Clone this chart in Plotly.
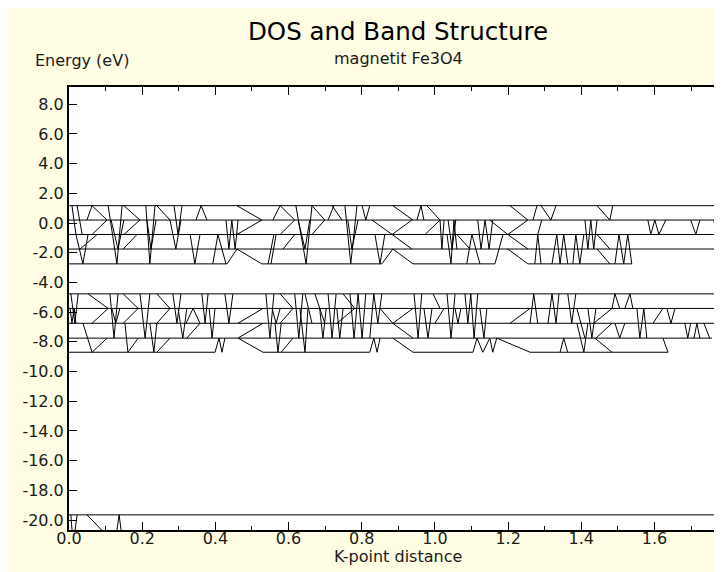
import plotly.graph_objects as go

# ---------------- data ----------------
k_max = 1.79
e_range = [-20.67, 9.16]

upper_levels = [1.17, 0.20, -0.77, -1.75, -2.75]
lower_levels = [-4.77, -5.75, -6.75, -7.75, -8.70]
bottom_levels = [-19.65, -21.2]

# flat band pieces: (level index, k start, k end)
upper_flat = [(0, 0, 1.8), (1, 0, 1.8), (2, 0, 1.8), (3, 0, 1.8),
              (4, 0, 0.432), (4, 0.527, 0.855), (4, 0.940, 1.164), (4, 1.254, 1.538)]
lower_flat = [(0, 0, 1.8), (1, 0, 1.8), (2, 0, 1.8), (3, 0, 1.757),
              (4, 0, 0.399), (4, 0.530, 0.822), (4, 0.940, 1.104), (4, 1.260, 1.637)]
bottom_flat = [(0, 0, 1.8)]

# band crossings: lists of (k, level index)
upper_paths = [
    [(0.008, 0), (0.019, 2), (0.038, 4), (0.052, 2)],
    [(0.022, 0), (0.030, 1), (0.036, 2)],
    [(0.049, 1), (0.063, 0), (0.104, 1)],
    [(0.063, 2), (0.104, 1)],
    [(0.030, 3), (0.077, 2)],
    [(0.107, 0), (0.131, 4), (0.145, 0)],
    [(0.115, 1), (0.134, 3), (0.150, 1)],
    [(0.150, 0), (0.194, 1)],
    [(0.150, 2), (0.194, 1)],
    [(0.148, 3), (0.186, 2)],
    [(0.210, 0), (0.221, 4), (0.235, 0)],
    [(0.213, 1), (0.224, 3), (0.238, 1)],
    [(0.240, 0), (0.276, 1), (0.292, 3), (0.306, 1)],
    [(0.287, 0), (0.298, 2), (0.309, 0)],
    [(0.331, 2), (0.344, 4), (0.358, 2)],
    [(0.347, 1), (0.361, 0), (0.377, 1)],
    [(0.393, 4), (0.407, 2), (0.429, 4)],
    [(0.429, 1), (0.437, 3), (0.445, 1), (0.454, 3), (0.462, 1)],
    [(0.459, 0), (0.527, 1)],
    [(0.459, 2), (0.527, 1)],
    [(0.432, 4), (0.459, 3), (0.527, 4)],
    [(0.544, 4), (0.560, 2)],
    [(0.552, 4), (0.566, 2)],
    [(0.557, 1), (0.577, 0), (0.617, 1)],
    [(0.577, 2), (0.617, 1)],
    [(0.585, 3), (0.617, 2)],
    [(0.620, 0), (0.648, 4), (0.664, 0), (0.699, 1)],
    [(0.626, 1), (0.645, 3), (0.658, 1)],
    [(0.664, 2), (0.699, 1)],
    [(0.708, 1), (0.724, 0)],
    [(0.719, 0), (0.746, 1)],
    [(0.754, 0), (0.770, 4), (0.787, 0)],
    [(0.762, 1), (0.773, 3), (0.790, 1)],
    [(0.801, 0), (0.811, 1), (0.822, 0)],
    [(0.836, 2), (0.850, 4), (0.863, 2)],
    [(0.828, 1), (0.883, 2), (0.937, 1)],
    [(0.883, 2), (0.937, 3)],
    [(0.885, 0), (0.940, 1)],
    [(0.855, 4), (0.885, 3), (0.940, 4)],
    [(0.951, 1), (0.962, 0), (0.970, 1)],
    [(0.978, 0), (1.014, 1), (1.019, 3), (1.025, 1)],
    [(0.973, 2), (1.014, 1)],
    [(1.033, 2), (1.044, 4), (1.052, 1), (1.060, 3)],
    [(1.036, 1), (1.047, 3), (1.057, 1)],
    [(1.060, 2), (1.096, 3)],
    [(1.087, 4), (1.101, 2), (1.123, 4)],
    [(1.117, 1), (1.126, 3), (1.137, 1), (1.148, 3), (1.158, 1)],
    [(1.164, 4), (1.186, 2)],
    [(1.150, 1), (1.199, 2), (1.254, 3)],
    [(1.199, 2), (1.254, 1)],
    [(1.205, 0), (1.254, 1)],
    [(1.199, 3), (1.254, 4)],
    [(1.268, 1), (1.279, 0)],
    [(1.290, 0), (1.317, 1), (1.331, 0)],
    [(1.273, 4), (1.281, 2), (1.290, 4)],
    [(1.281, 2), (1.292, 1)],
    [(1.320, 4), (1.333, 2), (1.342, 4), (1.352, 2), (1.363, 4)],
    [(1.377, 4), (1.385, 2), (1.396, 4), (1.407, 2)],
    [(1.410, 1), (1.418, 3), (1.426, 1), (1.434, 3), (1.443, 1)],
    [(1.443, 0), (1.478, 1), (1.486, 0)],
    [(1.443, 2), (1.478, 3)],
    [(1.443, 3), (1.478, 4)],
    [(1.492, 4), (1.503, 2), (1.516, 4), (1.527, 2), (1.538, 4)],
    [(1.582, 1), (1.590, 2), (1.601, 1), (1.612, 2), (1.631, 1)],
    [(1.699, 1), (1.713, 2), (1.724, 1)],
    [(1.762, 1), (1.770, 2), (1.779, 1)],
]

lower_paths = [
    [(0.003, 1), (0.008, 2), (0.014, 1), (0.019, 2)],
    [(0.005, 0), (0.016, 2), (0.025, 0)],
    [(0.038, 2), (0.063, 4), (0.104, 3)],
    [(0.052, 0), (0.107, 1)],
    [(0.063, 2), (0.107, 1)],
    [(0.112, 0), (0.123, 3), (0.134, 0)],
    [(0.117, 1), (0.128, 2), (0.139, 1)],
    [(0.148, 0), (0.189, 1)],
    [(0.148, 2), (0.189, 1)],
    [(0.153, 2), (0.161, 4), (0.189, 3)],
    [(0.194, 0), (0.208, 3), (0.221, 0)],
    [(0.221, 2), (0.232, 4), (0.240, 2)],
    [(0.240, 0), (0.276, 1)],
    [(0.240, 2), (0.276, 1)],
    [(0.240, 4), (0.276, 3)],
    [(0.284, 0), (0.295, 2), (0.306, 0)],
    [(0.298, 1), (0.311, 3), (0.322, 1)],
    [(0.320, 2), (0.339, 1), (0.358, 2)],
    [(0.322, 3), (0.358, 2)],
    [(0.363, 0), (0.372, 2), (0.380, 0)],
    [(0.383, 1), (0.391, 3), (0.399, 1)],
    [(0.399, 4), (0.410, 3), (0.418, 4), (0.426, 3)],
    [(0.426, 0), (0.437, 2), (0.448, 0)],
    [(0.462, 3), (0.530, 2)],
    [(0.462, 3), (0.530, 4)],
    [(0.462, 2), (0.530, 1)],
    [(0.538, 0), (0.549, 3), (0.560, 0)],
    [(0.555, 1), (0.566, 2), (0.577, 1)],
    [(0.563, 2), (0.571, 4), (0.580, 2)],
    [(0.577, 0), (0.612, 1)],
    [(0.577, 2), (0.612, 1)],
    [(0.580, 4), (0.612, 3)],
    [(0.617, 0), (0.628, 3), (0.639, 0)],
    [(0.631, 1), (0.645, 4), (0.653, 1)],
    [(0.645, 0), (0.664, 2)],
    [(0.672, 0), (0.699, 2)],
    [(0.685, 1), (0.694, 3), (0.703, 1)],
    [(0.708, 0), (0.719, 3), (0.730, 0)],
    [(0.732, 1), (0.740, 3), (0.749, 1)],
    [(0.732, 2), (0.781, 1)],
    [(0.749, 0), (0.781, 1)],
    [(0.768, 0), (0.779, 3), (0.790, 0), (0.801, 3), (0.811, 0)],
    [(0.822, 4), (0.833, 3), (0.842, 4), (0.850, 3)],
    [(0.822, 3), (0.833, 0), (0.844, 2), (0.855, 0)],
    [(0.850, 1), (0.885, 2), (0.940, 1)],
    [(0.885, 2), (0.940, 3)],
    [(0.885, 3), (0.940, 4)],
    [(0.943, 0), (0.954, 3), (0.964, 0)],
    [(0.970, 1), (0.981, 3), (0.992, 1)],
    [(0.995, 0), (1.014, 1)],
    [(1.000, 2), (1.025, 1)],
    [(1.033, 0), (1.044, 3), (1.055, 0)],
    [(1.055, 1), (1.063, 2), (1.071, 1)],
    [(1.082, 0), (1.090, 2), (1.098, 0), (1.107, 3), (1.117, 0)],
    [(1.123, 1), (1.134, 3), (1.142, 1)],
    [(1.104, 4), (1.115, 3), (1.131, 4), (1.150, 3), (1.158, 4), (1.169, 3), (1.260, 4)],
    [(1.205, 2), (1.260, 1)],
    [(1.260, 2), (1.270, 0), (1.281, 2)],
    [(1.309, 2), (1.320, 0), (1.331, 2), (1.339, 0)],
    [(1.342, 4), (1.352, 3), (1.363, 4)],
    [(1.363, 0), (1.374, 2), (1.385, 0)],
    [(1.388, 2), (1.407, 4), (1.418, 2)],
    [(1.388, 1), (1.410, 3)],
    [(1.418, 1), (1.429, 3), (1.440, 1)],
    [(1.434, 2), (1.484, 1)],
    [(1.437, 3), (1.484, 4)],
    [(1.440, 3), (1.484, 2)],
    [(1.484, 1), (1.492, 0), (1.505, 1)],
    [(1.519, 1), (1.533, 0), (1.541, 1)],
    [(1.492, 2), (1.505, 3), (1.519, 2)],
    [(1.552, 1), (1.560, 3), (1.571, 1), (1.579, 3)],
    [(1.596, 2), (1.623, 1)],
    [(1.623, 3), (1.637, 4)],
    [(1.634, 1), (1.645, 2), (1.656, 1)],
    [(1.683, 2), (1.691, 3), (1.699, 2)],
    [(1.708, 3), (1.716, 2), (1.724, 3)],
    [(1.735, 2), (1.751, 3)],
]

bottom_paths = [
    [(0.005, 0), (0.010, 1)],
    [(0.014, 1), (0.022, 0)],
    [(0.049, 0), (0.110, 1)],
    [(0.128, 1), (0.137, 0), (0.145, 1)],
]

x_tick_vals = [0.0, 0.2, 0.4, 0.6, 0.8, 1.0, 1.2, 1.4, 1.6]
x_tick_text = ["0.0", "0.2", "0.4", "0.6", "0.8", "1.0", "1.2", "1.4", "1.6"]
x_minor_vals = [0.1, 0.3, 0.5, 0.7, 0.9, 1.1, 1.3, 1.5, 1.7]
y_tick_vals = [8, 6, 4, 2, 0, -2, -4, -6, -8, -10, -12, -14, -16, -18, -20]
y_tick_text = ["8.0", "6.0", "4.0", "2.0", "0.0", "-2.0", "-4.0", "-6.0", "-8.0",
               "-10.0", "-12.0", "-14.0", "-16.0", "-18.0", "-20.0"]

title_text = "DOS and Band Structure"
subtitle_text = "magnetit Fe3O4"
y_title = "Energy (eV)"
x_title = "K-point distance"


# ---------------- build ----------------
def expand(levels, flats, paths):
    xs, ys = [], []
    for lvl, k0, k1 in flats:
        xs += [k0, k1, None]
        ys += [levels[lvl], levels[lvl], None]
    for p in paths:
        for k, lvl in p:
            xs.append(k)
            ys.append(levels[lvl])
        xs.append(None)
        ys.append(None)
    return xs, ys


fig = go.Figure()
for levels, flats, paths in [(upper_levels, upper_flat, upper_paths),
                             (lower_levels, lower_flat, lower_paths),
                             (bottom_levels, bottom_flat, bottom_paths)]:
    xs, ys = expand(levels, flats, paths)
    fig.add_trace(go.Scatter(x=xs, y=ys, mode="lines",
                             line=dict(color="black", width=1),
                             connectgaps=False, hoverinfo="skip",
                             showlegend=False))

FONT = "DejaVu Sans"
OFF = 8                     # page margin in front of the figure
FIG_W, FIG_H = 730, 580
L, T, W, H = 69 - OFF, 87 - OFF, 655, 443   # figure coordinates


def px_x(page_px):
    return (page_px - OFF - L) / W


def px_y(page_py):
    return (T + H - (page_py - OFF)) / H


cream = "#FFFDE3"
fig.update_layout(
    width=FIG_W, height=FIG_H,
    margin=dict(l=L, r=FIG_W - L - W, t=T, b=FIG_H - T - H, pad=0),
    paper_bgcolor=cream, plot_bgcolor="white",
    font=dict(family=FONT, size=16, color="#1a1a1a"),
    annotations=[
        dict(text=title_text, xref="paper", yref="paper", x=px_x(398), y=px_y(31),
             xanchor="center", yanchor="middle", showarrow=False,
             font=dict(family=FONT, size=24.5, color="black")),
        dict(text=subtitle_text, xref="paper", yref="paper", x=px_x(398), y=px_y(58),
             xanchor="center", yanchor="middle", showarrow=False,
             font=dict(family=FONT, size=16, color="#1a1a1a")),
        dict(text=y_title, xref="paper", yref="paper", x=px_x(33), y=px_y(60),
             xanchor="left", yanchor="middle", showarrow=False,
             font=dict(family=FONT, size=16, color="#1a1a1a")),
        dict(text=x_title, xref="paper", yref="paper", x=px_x(398), y=px_y(556),
             xanchor="center", yanchor="middle", showarrow=False,
             font=dict(family=FONT, size=16, color="#1a1a1a")),
    ],
)

fig.update_xaxes(range=[0, k_max], tickvals=x_tick_vals, ticktext=x_tick_text,
                 ticks="inside", ticklen=8, tickwidth=1, tickcolor="black",
                 minor=dict(tickvals=x_minor_vals, ticks="inside", ticklen=4,
                            tickwidth=1, tickcolor="black", showgrid=False),
                 showline=True, linewidth=2, linecolor="black", mirror="ticks",
                 showgrid=False, zeroline=False, ticklabelstandoff=-7,
                 tickfont=dict(family=FONT, size=16, color="#1a1a1a"))
fig.update_yaxes(range=e_range, tickvals=y_tick_vals, ticktext=y_tick_text,
                 ticks="inside", ticklen=8, tickwidth=1, tickcolor="black",
                 showline=True, linewidth=2, linecolor="black", mirror="ticks",
                 showgrid=False, zeroline=False,
                 tickfont=dict(family=FONT, size=16, color="#1a1a1a"))

fig.write_html("out.html")
